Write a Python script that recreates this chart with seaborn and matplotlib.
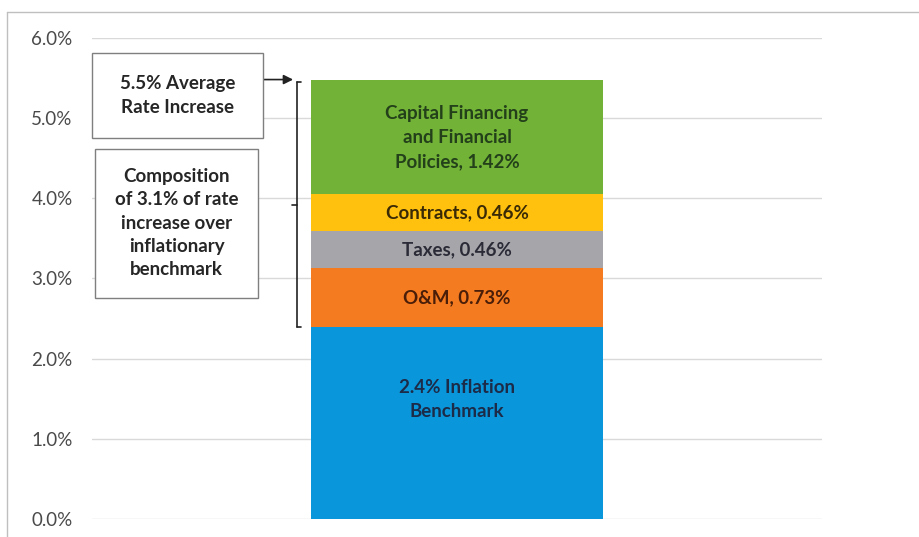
import numpy as np
import seaborn as sns
import matplotlib.pyplot as plt
from matplotlib.patches import Rectangle
from matplotlib.lines import Line2D

# Data
components = ['2.4% Inflation\nBenchmark', 'O&M, 0.73%', 'Taxes, 0.46%',
              'Contracts, 0.46%', 'Capital Financing\nand Financial\nPolicies, 1.42%']
values = [2.40, 0.73, 0.46, 0.46, 1.42]
colors = ['#0A96DA', '#F47B20', '#A6A6AA', '#FFC10E', '#72B337']
text_colors = ['#1C2B48', '#4A1E08', '#2B2B38', '#3A2A06', '#23401A']
y_ticks = [0, 1, 2, 3, 4, 5, 6]
y_tick_labels = ['0.0%', '1.0%', '2.0%', '3.0%', '4.0%', '5.0%', '6.0%']
box_labels = ['5.5% Average\nRate Increase',
              'Composition\nof 3.1% of rate\nincrease over\ninflationary\nbenchmark']

sns.set_style('white')
plt.rcParams['font.family'] = ['Lato', 'DejaVu Sans']

fig = plt.figure(figsize=(9.2, 5.37), dpi=100)
ax = fig.add_axes([0.1, 0.0335, 0.7935, 0.896])

# Stacked bar: draw cumulative totals from the top down
cum = np.cumsum(values)
for i in reversed(range(len(values))):
    sns.barplot(x=['Rate'], y=[cum[i]], color=colors[i], saturation=1,
                width=0.8, linewidth=0, ax=ax, zorder=2)

# Segment labels
bottoms = cum - np.array(values)
for i, lab in enumerate(components):
    frac = 0.62 if i == 0 else 0.5
    ax.text(0, bottoms[i] + values[i] * frac, lab, ha='center', va='center',
            fontsize=13.5, fontweight='bold', color=text_colors[i],
            linespacing=1.5, zorder=3)

# Axes styling
ax.set_xlim(-1, 1)
ax.set_ylim(0, 6)
ax.set_yticks(y_ticks)
ax.set_yticklabels(y_tick_labels, fontsize=13.5, color='#4A4A4A')
ax.set_xticks([])
ax.set_xlabel('')
ax.set_ylabel('')
ax.yaxis.grid(True, color='#D9D9D9', linewidth=1)
ax.set_axisbelow(True)
ax.tick_params(axis='y', length=0, pad=14)
for s in ax.spines.values():
    s.set_visible(False)

# Bracket beside the part above inflation
bx = -0.438
ax.plot([bx, bx], [bottoms[1], cum[-1] - 0.02], color='#222222', lw=1.2, clip_on=False)
ax.plot([bx, bx + 0.01], [cum[-1] - 0.02] * 2, color='#222222', lw=1.2)
ax.plot([bx, bx + 0.01], [bottoms[1]] * 2, color='#222222', lw=1.2)
ax.plot([bx, bx - 0.013], [3.92, 3.92], color='#222222', lw=1.2)

# Arrow from the box to the top of the bar
ax.annotate('', xy=(-0.449, 5.48), xytext=(-0.532, 5.48),
            arrowprops=dict(arrowstyle='-|>', color='#222222', lw=1.2,
                            mutation_scale=14, shrinkA=0, shrinkB=0))

# Text boxes
ax.add_patch(Rectangle((-1.0, 4.75), 0.468, 1.06, facecolor='white',
                       edgecolor='#7F7F7F', lw=1, zorder=3, clip_on=False))
ax.text(-0.766, 5.28, box_labels[0], ha='center', va='center', fontsize=13.5,
        fontweight='bold', color='#262626', linespacing=1.5, zorder=4)
ax.add_patch(Rectangle((-0.992, 2.757), 0.447, 1.858, facecolor='white',
                       edgecolor='#7F7F7F', lw=1, zorder=3, clip_on=False))
ax.text(-0.768, 3.69, box_labels[1], ha='center', va='center', fontsize=13.5,
        fontweight='bold', color='#262626', linespacing=1.45, zorder=4)

# Chart area border (top and left)
fig.add_artist(Line2D([7 / 920, 1], [1 - 12 / 537] * 2, color='#BFBFBF', lw=1))
fig.add_artist(Line2D([7 / 920] * 2, [0, 1 - 12 / 537], color='#BFBFBF', lw=1))

plt.savefig('out.png', dpi=100)
